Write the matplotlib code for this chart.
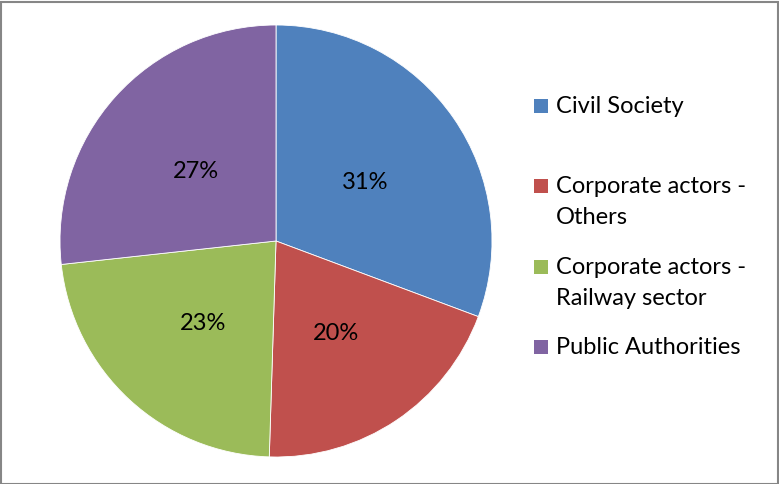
import matplotlib
matplotlib.use("Agg")

import matplotlib.pyplot as plt
from matplotlib.patches import Rectangle

# ---------- DATA ----------
groups = ["Civil Society", "Corporate actors -\nOthers",
          "Corporate actors -\nRailway sector", "Public Authorities"]
shares = [31, 20, 23, 27]
colors = ["#4F81BD", "#C0504D", "#9BBB59", "#8064A2"]

plt.rcParams["font.family"] = ["Lato", "DejaVu Sans"]

W, H = 779, 484
FS = 17
fig = plt.figure(figsize=(W / 100, H / 100), dpi=100)

# ---------- PIE ----------
cx, cy, r = 276, 241, 216
ax = fig.add_axes([(cx - r) / W, (H - cy - r) / H, 2 * r / W, 2 * r / H])
wedges, texts, autotexts = ax.pie(
    shares, colors=colors, startangle=90, counterclock=False,
    autopct="%.0f%%", pctdistance=0.5,
    wedgeprops=dict(edgecolor="white", linewidth=0.6),
    textprops=dict(fontsize=FS, color="black"),
)
# nudge the percentages down a few pixels
for t in autotexts:
    x, y = t.get_position()
    t.set_position((x, y - 3 / r))
ax.set_xlim(-1, 1)
ax.set_ylim(-1, 1)
ax.set_aspect("auto")
ax.axis("off")

# ---------- LEGEND ----------
first_baselines = [113, 193, 274, 354]
line_step = 31
for label, col, yb in zip(groups, colors, first_baselines):
    ymid = yb - 7
    fig.patches.append(Rectangle((534 / W, (H - ymid - 7) / H), 14 / W, 14 / H,
                                 transform=fig.transFigure, facecolor=col,
                                 edgecolor="none"))
    for i, line in enumerate(label.split("\n")):
        fig.text(556 / W, (H - yb - i * line_step) / H, line,
                 fontsize=FS, va="baseline", ha="left", color="black")

# chart border
fig.patches.append(Rectangle((0.5 / W, 0.5 / H), (W - 2) / W, (H - 2) / H,
                             transform=fig.transFigure, facecolor="none",
                             edgecolor="#868686", linewidth=1.5))

fig.savefig("out.png", dpi=100)
